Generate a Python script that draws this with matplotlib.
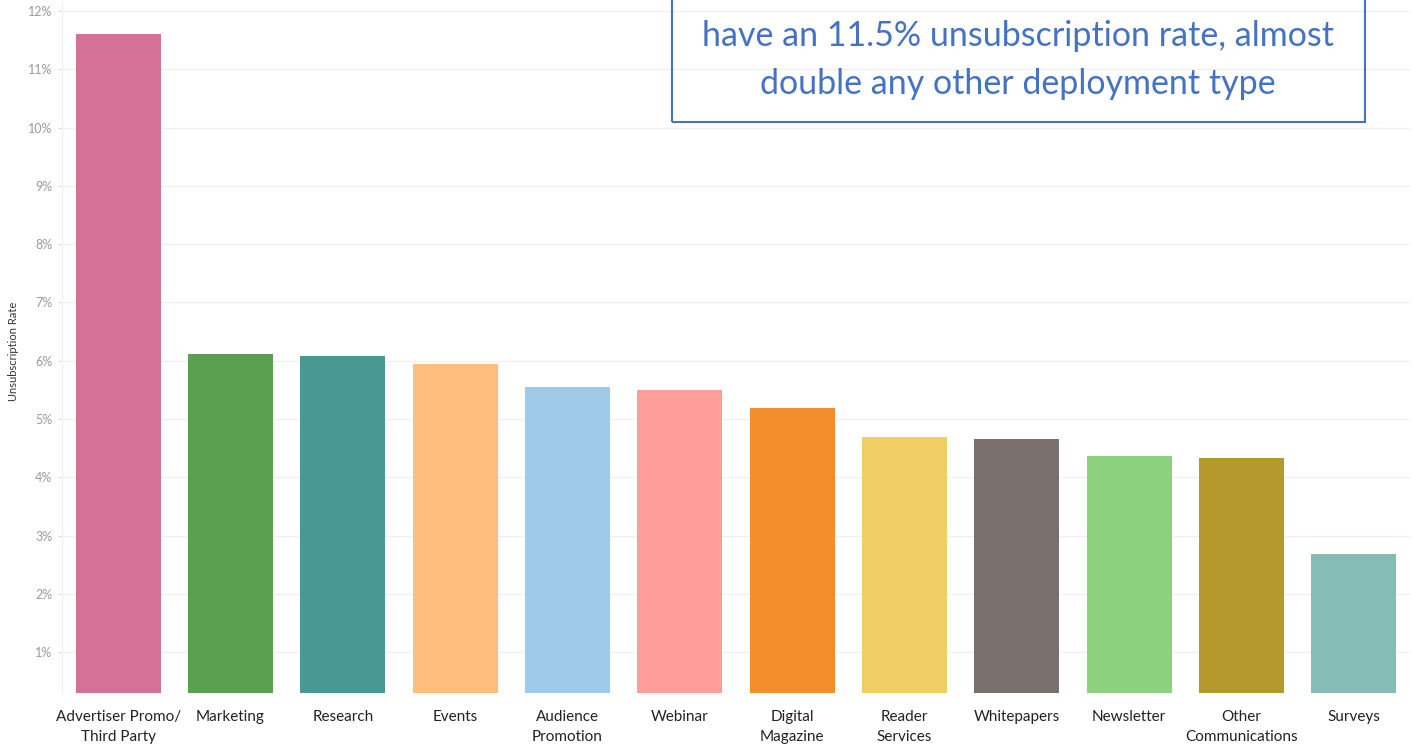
import matplotlib.pyplot as plt
from matplotlib.patches import Rectangle

# Unsubscription rate by deployment type (percent)
categories = ['Advertiser Promo/\nThird Party', 'Marketing', 'Research', 'Events',
              'Audience\nPromotion', 'Webinar', 'Digital\nMagazine', 'Reader\nServices',
              'Whitepapers', 'Newsletter', 'Other\nCommunications', 'Surveys']
rates = [11.61, 6.11, 6.08, 5.94, 5.55, 5.50, 5.19, 4.69, 4.65, 4.36, 4.33, 2.68]
colors = ['#D37295', '#59A14F', '#499894', '#FFBE7D', '#A0CBE8', '#FF9D9A',
          '#F28E2B', '#F1CE63', '#79706E', '#8CD17D', '#B6992D', '#86BCB6']
yticks = list(range(1, 13))
callout = 'have an 11.5% unsubscription rate, almost\ndouble any other deployment type'

fig = plt.figure(figsize=(14.13, 7.48), dpi=100)
ax = fig.add_axes([0.0439, 0.0735, 0.954, 0.9238])

x = range(len(categories))
ax.bar(x, rates, width=0.757, color=colors, zorder=2)

ax.set_xlim(-0.5, len(categories) - 0.5)
ax.set_ylim(0.3, 12.155)
ax.set_yticks(yticks)
ax.set_yticklabels([f'{t}%' for t in yticks], color='#9a9a9a', fontsize=9, family='Lato')
ax.tick_params(axis='y', length=3, color='#dddddd', pad=4)
ax.set_xticks(list(x))
ax.set_xticklabels(categories, fontsize=11, family='Lato', color='#222222', linespacing=1.55)
ax.tick_params(axis='x', length=0, pad=12)
ax.grid(axis='y', color='#f0f0f0', linewidth=1, zorder=0)

for side in ['top', 'right', 'bottom']:
    ax.spines[side].set_visible(False)
ax.spines['left'].set_color('#eeeeee')

fig.text(0.0099, 0.53, 'Unsubscription Rate', rotation=90, fontsize=8,
         family='Lato', color='#333333', ha='center', va='center')

# callout box, partly running off the top of the figure
box = Rectangle((672 / 1413, 1 - 122 / 748), 693 / 1413, 0.25,
                transform=fig.transFigure, fill=False, edgecolor='#4472C4',
                linewidth=1.5, zorder=5)
fig.patches.append(box)
fig.text(1018 / 1413, 1 - 60 / 748, callout, ha='center', va='center',
         fontsize=24.5, family='Lato', color='#4472C4', linespacing=1.62)

fig.savefig('out.png', dpi=100)
